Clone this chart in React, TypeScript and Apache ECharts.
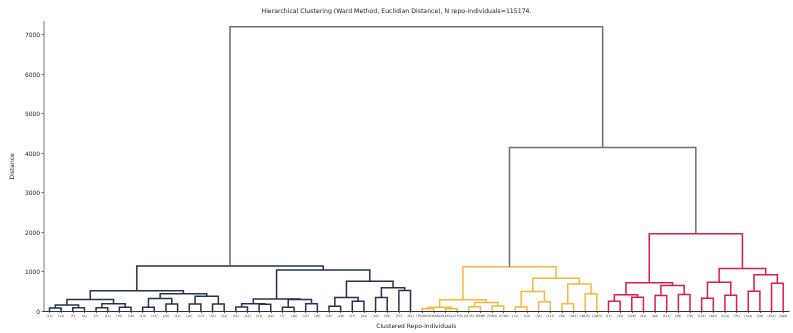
import React, { useEffect, useRef } from "react";
import * as echarts from "echarts";

const TITLE = "Hierarchical Clustering (Ward Method, Euclidian Distance), N repo-individuals=115174.";
const X_NAME = "Clustered Repo-individuals";
const Y_NAME = "Distance";

// Leaf labels (cluster sizes), left to right
const darkLeaves = ["(11)", "(11)", "(5)", "(6)", "(7)", "(11)", "(35)", "(16)", "(13)", "(17)", "(20)", "(12)", "(10)", "(17)", "(33)", "(32)",
  "(11)", "(12)", "(23)", "(22)", "(7)", "(18)", "(35)", "(26)", "(16)", "(29)", "(27)", "(44)", "(20)", "(56)", "(77)", "(62)"];
const orangeLeaves = ["(75286)", "(83608)", "(43255)", "(21715)", "(2135)", "(6596)", "(5568)", "(1709)", "(11)", "(12)", "(33)", "(217)", "(30)", "(281)", "(2635)", "(3863)"];
const redLeaves = ["(11)", "(35)", "(126)", "(91)", "(84)", "(111)", "(69)", "(76)", "(123)", "(483)", "(114)", "(76)", "(114)", "(28)", "(554)", "(289)"];
const leafLabels = [...darkLeaves, ...orangeLeaves, ...redLeaves];

// Merges [left node, right node, distance]; leaves are 0..63, merged nodes are numbered 64+ in order
const darkMerges = [
  [0, 1, 75], [2, 3, 80], [64, 65, 155], [4, 5, 85], [6, 7, 95], [67, 68, 183], [66, 69, 293],
  [8, 9, 95], [10, 11, 175], [71, 72, 318], [12, 13, 175], [14, 15, 180], [74, 75, 376], [73, 76, 434], [70, 77, 510],
  [16, 17, 100], [18, 19, 168], [79, 80, 185], [20, 21, 92], [22, 23, 183], [82, 83, 290], [81, 84, 305],
  [24, 25, 120], [26, 27, 245], [86, 87, 340], [28, 29, 340], [30, 31, 518], [89, 90, 590], [88, 91, 755],
  [85, 92, 1040], [78, 93, 1140],
];
const orangeMerges = [
  [32, 33, 55], [34, 35, 55], [95, 96, 95], [36, 37, 105], [38, 39, 128], [98, 99, 215], [97, 100, 288],
  [40, 41, 100], [42, 43, 235], [102, 103, 495], [44, 45, 183], [46, 47, 434], [105, 106, 685], [104, 107, 827],
  [101, 108, 1120],
];
const redMerges = [
  [48, 49, 250], [50, 51, 350], [110, 111, 410], [52, 53, 392], [54, 55, 418], [113, 114, 643], [112, 115, 718],
  [56, 57, 325], [58, 59, 400], [117, 118, 727], [60, 61, 500], [62, 63, 700], [120, 121, 918], [119, 122, 1077],
  [116, 123, 1955],
];
const topMerges = [[109, 124, 4140], [94, 125, 7200]];

const yTicks = [0, 1000, 2000, 3000, 4000, 5000, 6000, 7000];
const clusterColors = ["#26334f", "#f8b83e", "#dc1e4b", "#707070"];

function buildLinks() {
  const n = leafLabels.length;
  const pos: number[] = [];
  const hgt: number[] = [];
  for (let i = 0; i < n; i++) { pos.push(10 * i + 5); hgt.push(0); }
  const groups = [darkMerges, orangeMerges, redMerges, topMerges];
  const all: number[][] = [];
  groups.forEach((g, gi) => g.forEach((m) => all.push([m[0], m[1], m[2], gi])));
  const links: number[][] = [];
  all.forEach((m) => {
    const [a, b, h, c] = m;
    links.push([pos[a], pos[b], hgt[a], hgt[b], h, c]);
    pos.push((pos[a] + pos[b]) / 2);
    hgt.push(h);
  });
  return links;
}

export default function App() {
  const ref = useRef<HTMLDivElement>(null);
  useEffect(() => {
    if (!ref.current) return;
    const chart = echarts.init(ref.current, undefined, { renderer: "svg" });
    const links = buildLinks();
    chart.setOption({
      animation: false,
      textStyle: { fontFamily: "DejaVu Sans" },
      title: {
        text: TITLE,
        left: "center",
        top: 2,
        textStyle: { fontSize: 6.2, fontWeight: "normal", color: "#222", fontFamily: "DejaVu Sans" },
      },
      grid: { left: 29, right: 4, top: 21.7, bottom: 18.7, containLabel: false },
      xAxis: [
        {
          type: "value", min: 0, max: leafLabels.length * 10, position: "top",
          axisLine: { show: true, lineStyle: { color: "#888", width: 0.8 } },
          axisTick: { show: false }, axisLabel: { show: false }, splitLine: { show: false },
        },
        {
          type: "category", data: leafLabels, position: "bottom", boundaryGap: true,
          axisLine: { show: true, lineStyle: { color: "#333", width: 1 } },
          axisTick: { show: true, alignWithLabel: true, length: 2, lineStyle: { color: "#333", width: 0.8 } },
          axisLabel: { interval: 0, fontSize: 3, margin: 3, color: "#333", fontFamily: "DejaVu Sans" },
          name: X_NAME, nameLocation: "middle", nameGap: 11,
          nameTextStyle: { fontSize: 6, color: "#222", fontFamily: "DejaVu Sans" },
        },
      ],
      yAxis: {
        type: "value", min: 0, max: 7330,
        axisLine: { show: true, lineStyle: { color: "#bbb", width: 2 } },
        axisTick: { show: true, length: 2, customValues: yTicks, lineStyle: { color: "#333", width: 0.8 } },
        axisLabel: {
          customValues: yTicks, fontSize: 6, margin: 3.5, color: "#222", fontFamily: "DejaVu Sans",
          formatter: (v: number) => String(v),
        },
        splitLine: { show: false },
        name: Y_NAME, nameLocation: "middle", nameGap: 24,
        nameTextStyle: { fontSize: 6, color: "#222", fontFamily: "DejaVu Sans" },
      },
      series: [
        {
          type: "custom",
          xAxisIndex: 0,
          yAxisIndex: 0,
          clip: false,
          encode: { x: [0, 1], y: [2, 3, 4] },
          data: links,
          renderItem: (params: any, api: any) => {
            const x1 = api.value(0), x2 = api.value(1);
            const y1 = api.value(2), y2 = api.value(3), yt = api.value(4);
            const c = api.value(5);
            const pts = [api.coord([x1, y1]), api.coord([x1, yt]), api.coord([x2, yt]), api.coord([x2, y2])];
            return {
              type: "polyline",
              shape: { points: pts },
              style: { stroke: clusterColors[c], lineWidth: 1.5, fill: "none" },
            };
          },
        },
      ],
    });
    return () => chart.dispose();
  }, []);
  return <div ref={ref} style={{ position: "fixed", left: 0, top: 0, width: 793, height: 333 }} />;
}
